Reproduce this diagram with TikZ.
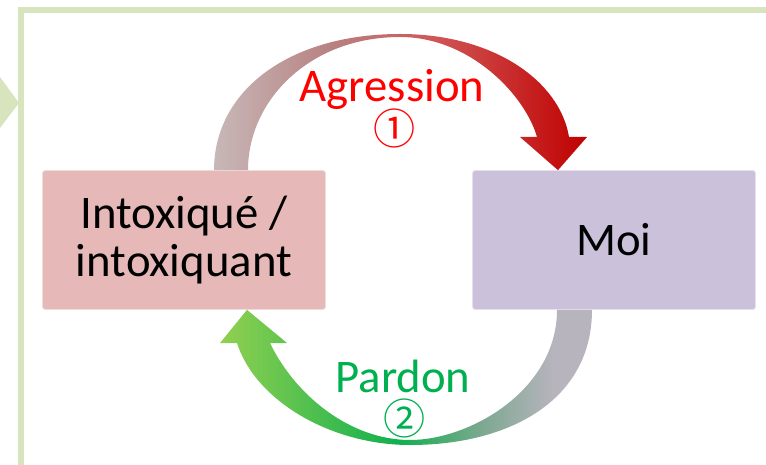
\documentclass[tikz,border=0pt]{standalone}
\usepackage{fontspec}
\setmainfont{Carlito}
\newfontfamily\circfont{Noto Sans CJK JP}
\usetikzlibrary{calc}

\definecolor{framegreen}{HTML}{D7E4BD}
\definecolor{intoxpink}{HTML}{E6B9B8}
\definecolor{moililac}{HTML}{CCC1DA}
\definecolor{agrred}{HTML}{FF0000}
\definecolor{pardgreen}{HTML}{00B050}
\definecolor{agrA}{HTML}{C8B8B8}
\definecolor{agrB}{HTML}{B88484}
\definecolor{agrC}{HTML}{D05454}
\definecolor{agrD}{HTML}{C00000}
\definecolor{pardA}{HTML}{92D050}
\definecolor{pardB}{HTML}{10B04E}
\definecolor{pardC}{HTML}{7CA890}
\definecolor{pardD}{HTML}{B8B4BE}

\pgfdeclarehorizontalshading{agrshade}{100bp}{color(0bp)=(agrA); color(25bp)=(agrA); color(40bp)=(agrB); color(55bp)=(agrC); color(75bp)=(agrD); color(100bp)=(agrD)}
\pgfdeclarehorizontalshading{pardshade}{100bp}{color(0bp)=(pardA); color(25bp)=(pardA); color(49bp)=(pardB); color(60bp)=(pardC); color(70bp)=(pardD); color(100bp)=(pardD)}

\tikzset{
  cyclebox/.style={minimum width=5.66cm, minimum height=2.78cm, inner sep=0pt, align=center,
    rounded corners=1.5pt, font=\fontsize{26.6}{27.2}\selectfont},
  cyctext/.style={inner sep=0pt, font=\fontsize{26.6}{27.2}\selectfont},
  circtext/.style={inner sep=0pt, font=\circfont\fontsize{24}{24}\selectfont}
}

\begin{document}
\begin{tikzpicture}[x=0.02cm,y=-0.02cm]
\useasboundingbox (0,0) rectangle (766,465);
% frame
\fill[framegreen] (18,7) rectangle (766,13);
\fill[framegreen] (18,7) rectangle (24,465);
\fill[framegreen] (0,77) -- (19,103) -- (0,128) -- cycle;

\node[cyclebox, fill=intoxpink, draw=intoxpink!50!white] (intox) at (184,240) {Intoxiqué /\\intoxiquant};
\node[cyclebox, fill=moililac, draw=moililac!50!white] (moi) at (614,240) {Moi};

% agression arrow
\shade[shading=agrshade] ($(intox.north)+(30,0)$) .. controls (214,90) and (290,34) .. (400,34)
  .. controls (495,34) and (560,82) .. (569,137) -- (587,137) -- ($(moi.north)+(-56,0)$)
  -- (520,137) -- (537,137) .. controls (525,95) and (470,37) .. (400,37)
  .. controls (310,37) and (248,100) .. ($(intox.north)+(64,0)$) -- cycle;
% pardon arrow
\shade[shading=pardshade] ($(moi.south)+(-22,0)$) .. controls (592,400) and (510,445) .. (410,445)
  .. controls (330,445) and (255,400) .. (237,343) -- (220,343) -- ($(intox.south)+(63,0)$)
  -- (287,343) -- (270,343) .. controls (295,395) and (350,440) .. (410,440)
  .. controls (470,440) and (557,390) .. ($(moi.south)+(-57,0)$) -- cycle;

\node[cyctext, text=agrred, anchor=base] (agr) at (392,102) {Agression};
\node[circtext, text=agrred] (agrno) at (395,128) {①};
\node[cyctext, text=pardgreen, anchor=base] (par) at (403,392) {Pardon};
\node[circtext, text=pardgreen] (parno) at (405,418) {②};
\end{tikzpicture}
\end{document}
